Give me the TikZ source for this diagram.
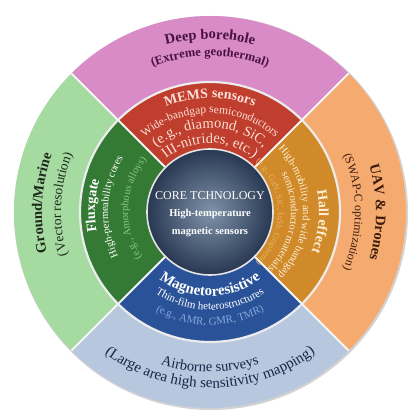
\documentclass[tikz,border=0pt]{standalone}
\usepackage{fontspec}
\setmainfont{Liberation Serif}
\usetikzlibrary{decorations.text}

\definecolor{boreholepink}{RGB}{216,139,198}
\definecolor{marinegreen}{RGB}{165,218,160}
\definecolor{airborneblue}{RGB}{182,199,222}
\definecolor{uavorange}{RGB}{245,170,112}
\definecolor{memsred}{RGB}{192,62,46}
\definecolor{fluxgreen}{RGB}{52,122,52}
\definecolor{hallorange}{RGB}{208,138,42}
\definecolor{mrblue}{RGB}{42,82,152}
\definecolor{coremid}{RGB}{128,146,170}
\definecolor{coreedge}{RGB}{40,56,82}
\definecolor{boreholetext}{RGB}{74,18,64}
\definecolor{marinetext}{RGB}{28,40,28}
\definecolor{uavtext}{RGB}{59,28,12}
\definecolor{airbornetext}{RGB}{28,36,71}
\definecolor{memstext}{RGB}{251,224,214}
\definecolor{fluxfaint}{RGB}{140,198,135}
\definecolor{halltext}{RGB}{253,240,216}
\definecolor{hallfaint}{RGB}{234,181,96}
\definecolor{mrfaint}{RGB}{134,166,220}

\newcommand{\bfsize}[1]{\fontsize{#1}{#1}\selectfont\bfseries}
\newcommand{\rmsize}[1]{\fontsize{#1}{#1}\selectfont}

\begin{document}
\begin{tikzpicture}[x=1pt,y=1pt,
    curved/.style={decorate,decoration={text along path,text align=center,text={#1}}},
    divider/.style={white!92!gray,line width=2pt},
    coretext/.style={text=white,align=center,font=\rmsize{10.5}\linespread{1.65}\selectfont}]
\path[use as bounding box,fill=white] (-210,-205) rectangle (207,212);
\fill[gray!35] (1,-1) circle[radius=197];
\fill[boreholepink] (45:130) arc[start angle=45,end angle=135,radius=130] -- (135:196) arc[start angle=135,end angle=45,radius=196] -- cycle;
\fill[marinegreen] (135:130) arc[start angle=135,end angle=225,radius=130] -- (225:196) arc[start angle=225,end angle=135,radius=196] -- cycle;
\fill[airborneblue] (225:130) arc[start angle=225,end angle=315,radius=130] -- (315:196) arc[start angle=315,end angle=225,radius=196] -- cycle;
\fill[uavorange] (-45:130) arc[start angle=-45,end angle=45,radius=130] -- (45:196) arc[start angle=45,end angle=-45,radius=196] -- cycle;
\fill[memsred] (45:62) arc[start angle=45,end angle=135,radius=62] -- (135:130) arc[start angle=135,end angle=45,radius=130] -- cycle;
\fill[fluxgreen] (135:62) arc[start angle=135,end angle=225,radius=62] -- (225:130) arc[start angle=225,end angle=135,radius=130] -- cycle;
\fill[mrblue] (225:62) arc[start angle=225,end angle=315,radius=62] -- (315:130) arc[start angle=315,end angle=225,radius=130] -- cycle;
\fill[hallorange] (-45:62) arc[start angle=-45,end angle=45,radius=62] -- (45:130) arc[start angle=45,end angle=-45,radius=130] -- cycle;
\draw[divider] (45:62) -- (45:196) (135:62) -- (135:196) (225:62) -- (225:196) (315:62) -- (315:196);
\draw[white!85!gray,line width=2.2pt] (0,0) circle[radius=130];
\shade[inner color=coremid,outer color=coreedge] (0,0) circle[radius=63];
\draw[white!80!gray,line width=1.6pt] (0,0) circle[radius=63];
\node[coretext] (core) at (0,-2) {{\rmsize{12}CORE TCHNOLOGY}\\ \bfseries High-temperature\\ \bfseries magnetic sensors};

\path[curved={|\bfsize{14.5}\color{boreholetext}|Deep borehole}] (135:173) arc[start angle=135,end angle=45,radius=173];
\path[curved={|\bfsize{12.5}\color{boreholetext}|(Extreme geothermal)}] (135:156) arc[start angle=135,end angle=45,radius=156];
\path[curved={|\bfsize{14.5}\color{marinetext}|Ground/Marine}] (222:168) arc[start angle=222,end angle=132,radius=168];
\path[curved={|\rmsize{13.5}\color{marinetext}|(Vector resolution)}] (222:149) arc[start angle=222,end angle=132,radius=149];
\path[curved={|\bfsize{14.5}\color{uavtext}|UAV {\&} Drones}] (45:166) arc[start angle=45,end angle=-45,radius=166];
\path[curved={|\rmsize{12}\color{uavtext}|(SWAP-C optimization)}] (45:145) arc[start angle=45,end angle=-45,radius=145];
\path[curved={|\rmsize{14.5}\color{airbornetext}|Airborne surveys}] (225:160) arc[start angle=225,end angle=315,radius=160];
\path[curved={|\rmsize{15}\color{airbornetext}|(Large area high sensitivity mapping)}] (220:176) arc[start angle=220,end angle=320,radius=176];

\path[curved={|\bfsize{14}\color{memstext}|MEMS sensors}] (135:114) arc[start angle=135,end angle=45,radius=114];
\path[curved={|\rmsize{11.5}\color{memstext}|Wide-bandgap semiconductors}] (150:99) arc[start angle=150,end angle=30,radius=99];
\path[curved={|\rmsize{14.5}\color{memstext}|(e.g., diamond, SiC,}] (160:84) arc[start angle=160,end angle=20,radius=84];
\path[curved={|\rmsize{14.5}\color{memstext}|III-nitrides, etc.)}] (160:69) arc[start angle=160,end angle=20,radius=69];
\path[curved={|\bfsize{14}\color{white}|Fluxgate}] (222:115) arc[start angle=222,end angle=132,radius=115];
\path[curved={|\rmsize{10.5}\color{white}|High-permeability cores}] (222:102) arc[start angle=222,end angle=132,radius=102];
\path[curved={|\rmsize{10.5}\color{fluxfaint}|(e.g., Amorphous alloys)}] (232:82) arc[start angle=232,end angle=122,radius=82];
\path[curved={|\bfsize{14}\color{halltext}|Hall effect}] (40:109) arc[start angle=40,end angle=-50,radius=109];
\path[curved={|\rmsize{10.5}\color{halltext}|High-mobility and wide bandgap}] (65:93) arc[start angle=65,end angle=-65,radius=93];
\path[curved={|\rmsize{10.5}\color{halltext}|semiconductor materials}] (47:81) arc[start angle=47,end angle=-63,radius=81];
\path[curved={|\rmsize{8.5}\color{hallfaint}|(e.g., GaN, SiC, InSb, Graphene)}] (70:68) arc[start angle=70,end angle=-70,radius=68];
\path[curved={|\bfsize{15}\color{white}|Magnetoresistive}] (215:84) arc[start angle=215,end angle=325,radius=84];
\path[curved={|\rmsize{11}\color{white}|Thin-film heterostructures}] (215:98) arc[start angle=215,end angle=325,radius=98];
\path[curved={|\rmsize{11}\color{mrfaint}|(e.g., AMR, GMR, TMR)}] (220:113) arc[start angle=220,end angle=320,radius=113];
\end{tikzpicture}
\end{document}
